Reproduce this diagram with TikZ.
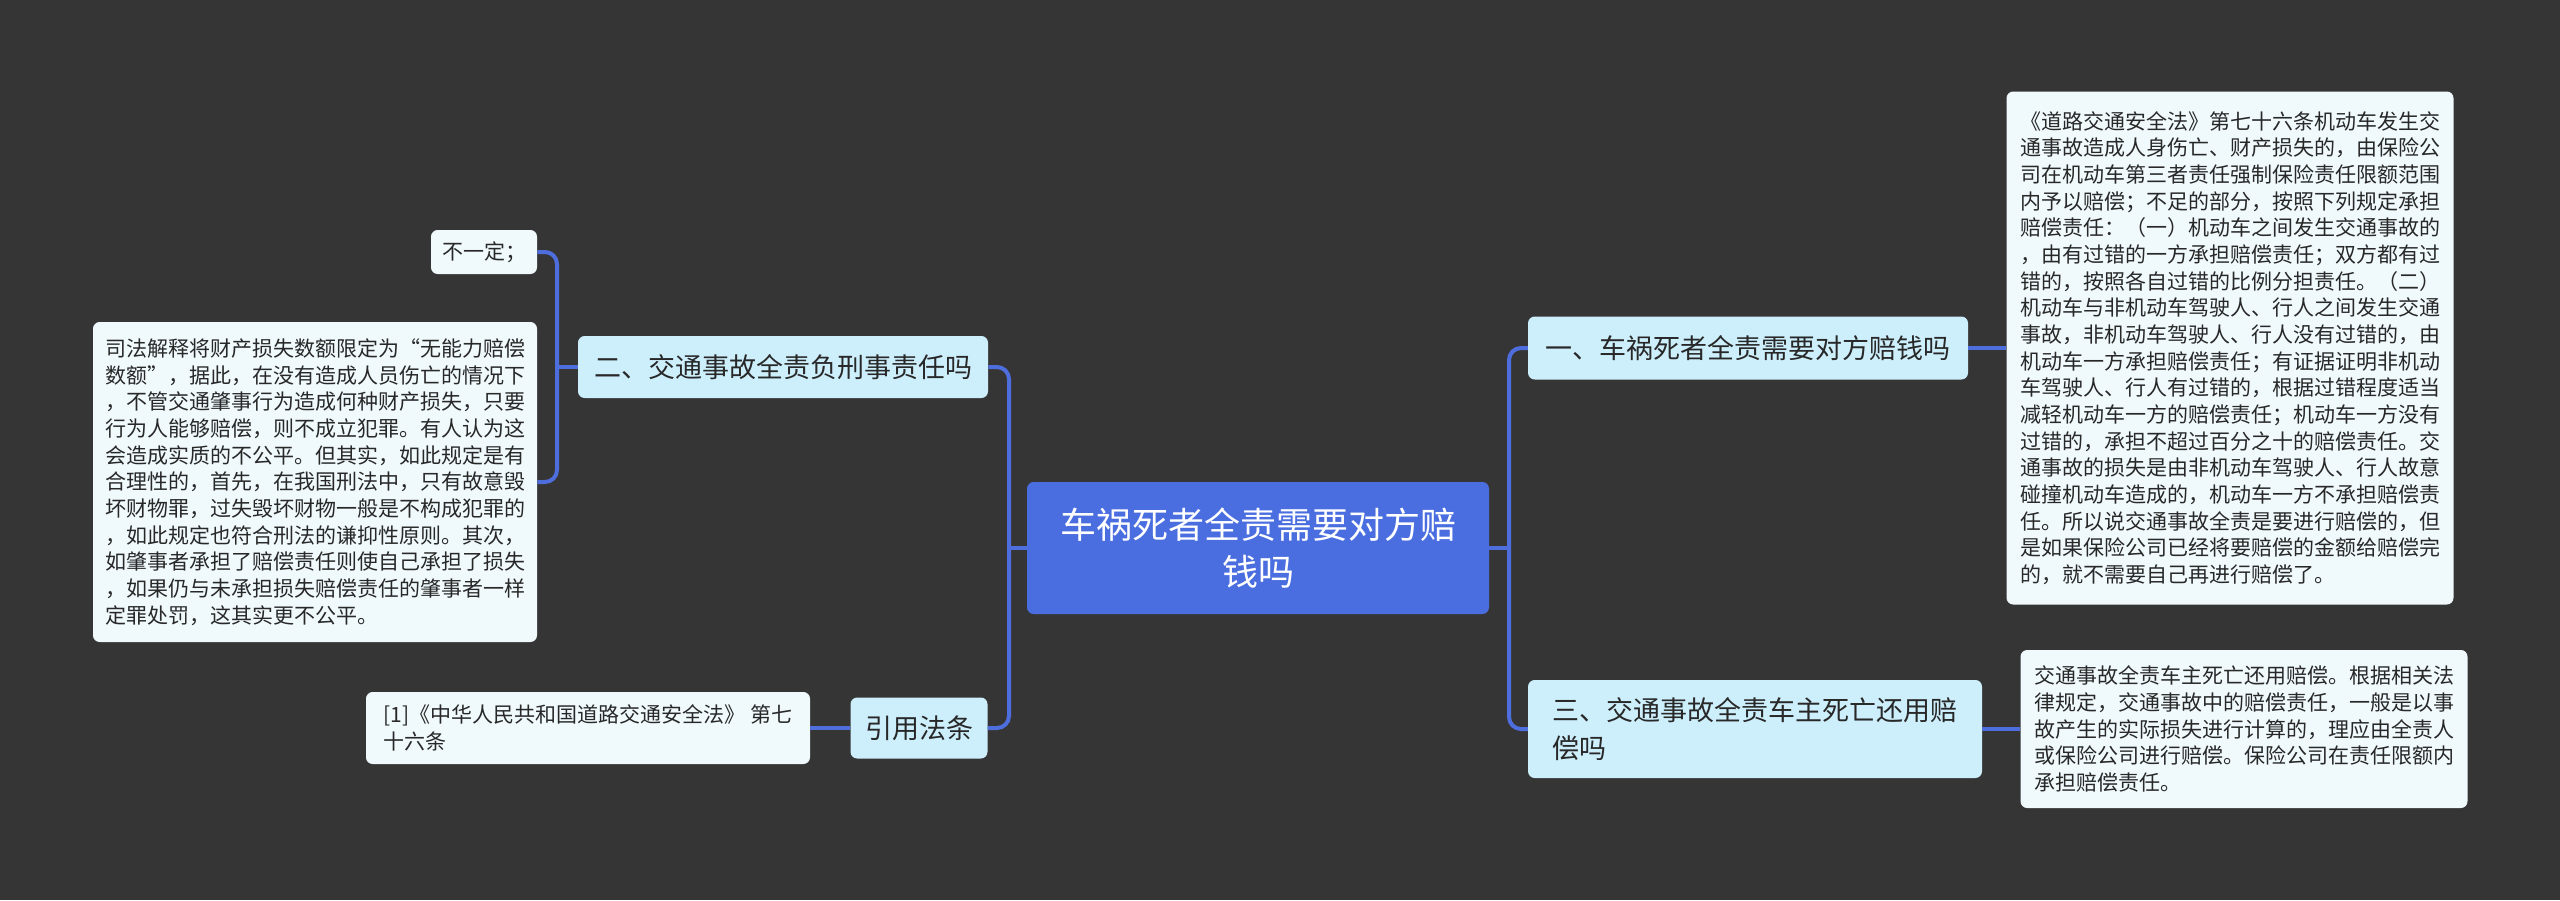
\documentclass[tikz,border=0pt]{standalone}
\usepackage{fontspec}
\setmainfont{Noto Sans CJK SC}
\usetikzlibrary{positioning,calc}
\definecolor{bgdark}{RGB}{54,53,54}
\definecolor{rootblue}{RGB}{74,110,224}
\definecolor{linkblue}{RGB}{78,110,222}
\definecolor{branchcyan}{RGB}{205,239,252}
\definecolor{leafwhite}{RGB}{240,250,253}
\definecolor{inkdark}{RGB}{40,40,40}
\tikzset{
    link/.style={draw=linkblue,line width=3pt,rounded corners=9pt},
    rootbox/.style={rectangle,rounded corners=5pt,fill=rootblue,text=white,inner sep=0pt,
        align=center,font=\fontsize{27pt}{35pt}\selectfont},
    branchbox/.style={rectangle,rounded corners=5pt,fill=branchcyan,text=inkdark,inner sep=0pt,
        align=left,font=\fontsize{20.25pt}{29pt}\selectfont},
    leafbox/.style={rectangle,rounded corners=5pt,fill=leafwhite,text=inkdark,inner sep=0pt,
        align=left,font=\fontsize{15.75pt}{20pt}\selectfont}
}

\begin{document}
\begin{tikzpicture}[x=0.75pt,y=-0.75pt]
    \fill[bgdark] (0,0) rectangle (2560,900);
    \useasboundingbox (0,0) rectangle (2560,900);

    % root
    \node[rootbox,minimum width=346.5pt,minimum height=99pt] (root) at (1258,548)
        {车祸死者全责需要对方赔\\钱吗};

    % right side
    \node[branchbox,minimum width=330pt,minimum height=47.25pt] (b1) at (1748,348)
        {一、车祸死者全责需要对方赔钱吗};
    \node[branchbox,minimum width=340.5pt,minimum height=73.5pt] (b3) at (1755,729)
        {三、交通事故全责车主死亡还用赔\\偿吗};
    \node[leafbox,minimum width=335.25pt,minimum height=384.75pt] (lawtext) at (2230,348)
        {《道路交通安全法》第七十六条机动车发生交\\
         通事故造成人身伤亡、财产损失的，由保险公\\
         司在机动车第三者责任强制保险责任限额范围\\
         内予以赔偿；不足的部分，按照下列规定承担\\
         赔偿责任：（一）机动车之间发生交通事故的\\
         ，由有过错的一方承担赔偿责任；双方都有过\\
         错的，按照各自过错的比例分担责任。（二）\\
         机动车与非机动车驾驶人、行人之间发生交通\\
         事故，非机动车驾驶人、行人没有过错的，由\\
         机动车一方承担赔偿责任；有证据证明非机动\\
         车驾驶人、行人有过错的，根据过错程度适当\\
         减轻机动车一方的赔偿责任；机动车一方没有\\
         过错的，承担不超过百分之十的赔偿责任。交\\
         通事故的损失是由非机动车驾驶人、行人故意\\
         碰撞机动车造成的，机动车一方不承担赔偿责\\
         任。所以说交通事故全责是要进行赔偿的，但\\
         是如果保险公司已经将要赔偿的金额给赔偿完\\
         的，就不需要自己再进行赔偿了。};
    \node[leafbox,minimum width=335.25pt,minimum height=118.5pt] (ownerleaf) at (2244,729)
        {交通事故全责车主死亡还用赔偿。根据相关法\\
         律规定，交通事故中的赔偿责任，一般是以事\\
         故产生的实际损失进行计算的，理应由全责人\\
         或保险公司进行赔偿。保险公司在责任限额内\\
         承担赔偿责任。};

    % left side
    \node[branchbox,minimum width=307.5pt,minimum height=46.5pt] (b2) at (783,367)
        {二、交通事故全责负刑事责任吗};
    \node[branchbox,minimum width=102.75pt,minimum height=45.75pt] (cite) at (919,728)
        {引用法条};
    \node[leafbox,minimum width=79.5pt,minimum height=33pt] (nosure) at (484,252)
        {不一定；};
    \node[leafbox,minimum width=333pt,minimum height=240pt] (crimeleaf) at (315,482)
        {司法解释将财产损失数额限定为“无能力赔偿\\
         数额”，据此，在没有造成人员伤亡的情况下\\
         ，不管交通肇事行为造成何种财产损失，只要\\
         行为人能够赔偿，则不成立犯罪。有人认为这\\
         会造成实质的不公平。但其实，如此规定是有\\
         合理性的，首先，在我国刑法中，只有故意毁\\
         坏财物罪，过失毁坏财物一般是不构成犯罪的\\
         ，如此规定也符合刑法的谦抑性原则。其次，\\
         如肇事者承担了赔偿责任则使自己承担了损失\\
         ，如果仍与未承担损失赔偿责任的肇事者一样\\
         定罪处罚，这其实更不公平。};
    \node[leafbox,minimum width=333pt,minimum height=54pt] (refleaf) at (588,728)
        {[1]《中华人民共和国道路交通安全法》 第七\\
         十六条};

    % junctions
    \coordinate (rj) at (1509,548);
    \coordinate (lj) at (1009,548);
    \coordinate (lj2) at (557,367);

    % connectors
    \draw[link] (root.east) -- (rj);
    \draw[link] (b1.west) -| (rj) |- (b3.west);
    \draw[link] (root.west) -- (lj);
    \draw[link] (b2.east) -| (lj) |- (cite.east);
    \draw[link] (b2.west) -- (lj2);
    \draw[link] (nosure.east) -| (lj2) |- (crimeleaf.east);
    \draw[link] (b1.east) -- (b1.east -| lawtext.west);
    \draw[link] (b3.east) -- (b3.east -| ownerleaf.west);
    \draw[link] (cite.west) -- (cite.west -| refleaf.east);
\end{tikzpicture}
\end{document}
